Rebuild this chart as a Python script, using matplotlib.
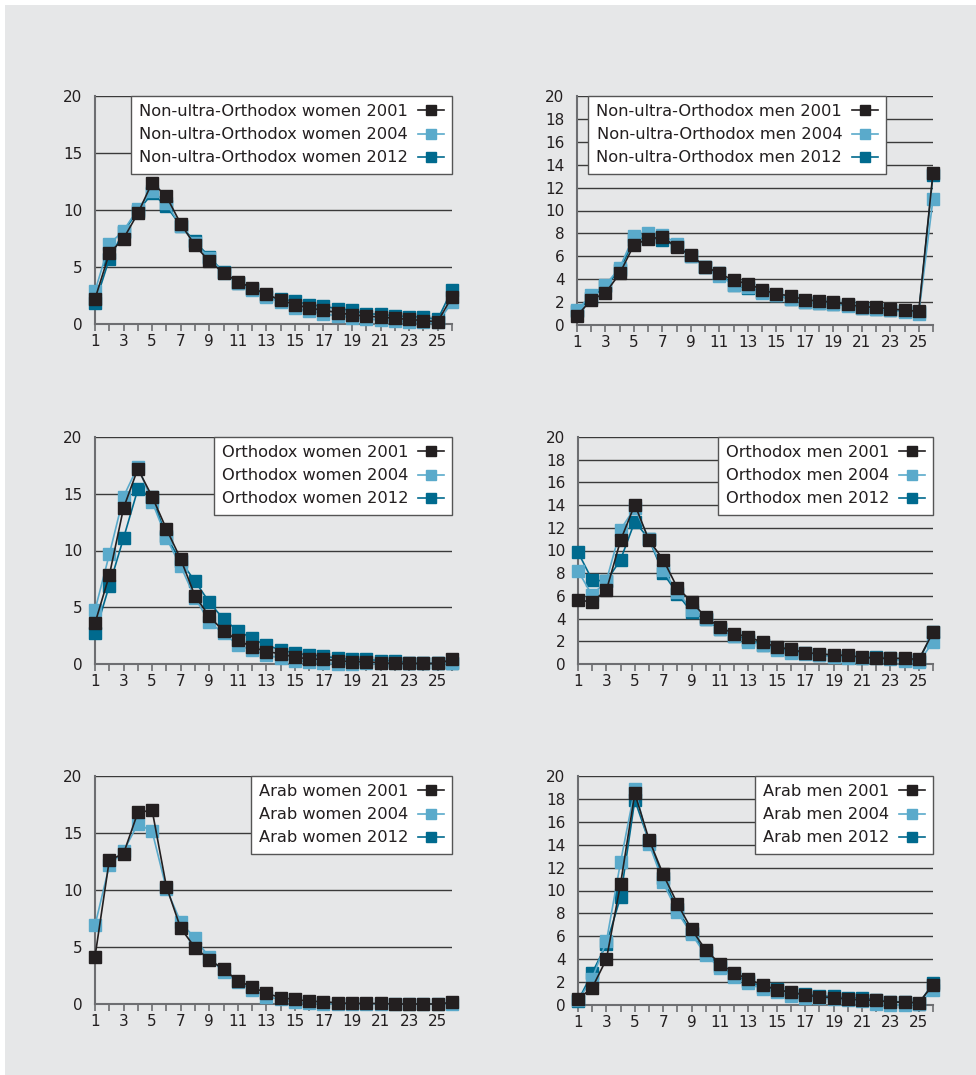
import matplotlib
matplotlib.use("Agg")
import matplotlib.pyplot as plt
from matplotlib.patches import Rectangle

plt.rcParams["font.family"] = ["DejaVu Sans"]

W, H = 976, 1075

x_pos = list(range(1, 27))

# Non-ultra-Orthodox women
nuo_women_2001 = [2.2, 6.2, 7.5, 9.7, 12.4, 11.2, 8.8, 6.9, 5.5, 4.5, 3.7, 3.2, 2.6, 2.1, 1.7, 1.4,
                  1.2, 1.0, 0.8, 0.7, 0.6, 0.5, 0.4, 0.3, 0.2, 2.4]
nuo_women_2004 = [2.9, 7.0, 8.2, 10.1, 11.7, 10.6, 8.6, 7.1, 5.8, 4.5, 3.6, 3.0, 2.4, 1.9, 1.4, 1.1,
                  0.9, 0.7, 0.55, 0.45, 0.35, 0.25, 0.2, 0.15, 0.15, 1.9]
nuo_women_2012 = [1.8, 5.7, 8.1, 9.9, 11.45, 10.35, 8.6, 7.25, 5.9, 4.55, 3.6, 3.1, 2.45, 2.2, 2.0, 1.7,
                  1.55, 1.35, 1.2, 0.9, 0.85, 0.7, 0.65, 0.6, 0.4, 3.0]

# Non-ultra-Orthodox men
nuo_men_2001 = [0.8, 2.2, 2.8, 4.5, 7.0, 7.5, 7.7, 6.8, 6.1, 5.1, 4.5, 3.9, 3.6, 3.1, 2.7, 2.55,
                2.2, 2.1, 2.0, 1.8, 1.6, 1.55, 1.4, 1.3, 1.2, 13.3]
nuo_men_2004 = [1.3, 2.6, 3.5, 5.0, 7.8, 8.0, 7.9, 7.1, 6.0, 5.1, 4.3, 3.5, 3.3, 2.8, 2.6, 2.3,
                2.0, 1.9, 1.8, 1.7, 1.5, 1.4, 1.3, 1.15, 1.0, 11.0]
nuo_men_2012 = [1.2, 2.4, 3.4, 4.8, 7.4, 7.7, 7.4, 6.9, 6.0, 5.1, 4.5, 3.5, 3.2, 2.9, 2.6, 2.25,
                2.0, 1.9, 1.85, 1.75, 1.5, 1.4, 1.3, 1.2, 1.1, 13.1]

# Orthodox women
orth_women_2001 = [3.6, 7.8, 13.75, 17.2, 14.75, 11.9, 9.25, 6.0, 4.2, 2.9, 2.1, 1.5, 1.1, 0.9, 0.6, 0.45,
                   0.4, 0.3, 0.2, 0.2, 0.1, 0.05, 0.05, 0.05, 0.05, 0.4]
orth_women_2004 = [4.75, 9.65, 14.75, 17.4, 14.3, 11.1, 8.6, 5.85, 3.7, 2.7, 1.7, 1.2, 0.8, 0.5, 0.3, 0.2,
                   0.1, 0.0, 0.0, 0.05, 0.05, 0.05, 0.05, 0.05, 0.05, 0.05]
orth_women_2012 = [2.7, 6.9, 11.1, 15.4, 14.7, 11.25, 9.05, 7.3, 5.45, 3.95, 2.95, 2.25, 1.65, 1.25, 0.95, 0.8,
                   0.7, 0.5, 0.4, 0.4, 0.3, 0.3, 0.1, 0.05, 0.05, 0.1]

# Orthodox men
orth_men_2001 = [5.6, 5.5, 6.5, 10.9, 14.05, 10.9, 9.2, 6.7, 5.5, 4.1, 3.25, 2.65, 2.4, 1.9, 1.5, 1.3,
                 1.0, 0.9, 0.8, 0.75, 0.6, 0.5, 0.5, 0.5, 0.4, 2.8]
orth_men_2004 = [8.2, 6.05, 7.35, 11.85, 13.75, 11.0, 8.3, 6.35, 4.8, 4.0, 3.1, 2.5, 1.95, 1.7, 1.25, 1.0,
                 0.85, 0.75, 0.65, 0.55, 0.5, 0.5, 0.4, 0.3, 0.15, 1.95]
orth_men_2012 = [9.85, 7.4, 7.3, 9.2, 12.55, 11.0, 8.0, 6.2, 4.55, 3.95, 3.05, 2.5, 2.15, 1.7, 1.4, 1.15,
                 0.95, 0.8, 0.7, 0.6, 0.55, 0.65, 0.5, 0.4, 0.3, 2.8]

# Arab women (no 2012 values)
arab_women_2001 = [4.15, 12.6, 13.2, 16.8, 17.0, 10.3, 6.65, 4.95, 3.9, 3.05, 2.05, 1.5, 0.95, 0.55, 0.4, 0.25,
                   0.2, 0.1, 0.05, 0.05, 0.05, 0.0, 0.0, 0.0, 0.0, 0.15]
arab_women_2004 = [6.9, 12.15, 13.4, 15.8, 15.15, 10.1, 7.2, 5.75, 4.1, 2.8, 1.95, 1.25, 0.65, 0.4, 0.15, 0.1,
                   0.0, 0.0, 0.0, 0.0, 0.0, 0.0, 0.0, 0.0, 0.0, 0.0]
arab_women_2012 = []

# Arab men
arab_men_2001 = [0.5, 1.5, 4.0, 10.6, 18.5, 14.45, 11.4, 8.85, 6.6, 4.8, 3.6, 2.8, 2.25, 1.75, 1.35, 1.1,
                 0.87, 0.7, 0.65, 0.5, 0.45, 0.4, 0.25, 0.25, 0.2, 1.75]
arab_men_2004 = [0.4, 2.3, 5.55, 12.5, 18.85, 14.1, 10.7, 8.1, 6.2, 4.35, 3.25, 2.45, 1.9, 1.4, 1.1, 0.75,
                 0.65, 0.6, 0.5, 0.45, 0.35, 0.1, 0.0, 0.0, 0.1, 1.3]
arab_men_2012 = [0.35, 2.8, 5.3, 9.45, 17.9, 14.3, 11.1, 8.35, 6.3, 4.6, 3.4, 2.55, 2.1, 1.55, 1.4, 1.05,
                 1.0, 0.8, 0.75, 0.6, 0.65, 0.45, 0.3, 0.25, 0.1, 1.9]

years = ["2001", "2004", "2012"]
colors = {"2001": "#231f20", "2004": "#5aaacb", "2012": "#006a8e"}
zorders = {"2001": 5, "2004": 4, "2012": 3}

panels = [
    ("Non-ultra-Orthodox women", [nuo_women_2001, nuo_women_2004, nuo_women_2012],
     (95, 96, 452, 324), range(0, 21, 5), 1.0),
    ("Non-ultra-Orthodox men", [nuo_men_2001, nuo_men_2004, nuo_men_2012],
     (577, 96, 933, 325), range(0, 21, 2), 0.868),
    ("Orthodox women", [orth_women_2001, orth_women_2004, orth_women_2012],
     (95, 437, 452, 664), range(0, 21, 5), 1.0),
    ("Orthodox men", [orth_men_2001, orth_men_2004, orth_men_2012],
     (578, 437, 933, 664), range(0, 21, 2), 1.0),
    ("Arab women", [arab_women_2001, arab_women_2004, arab_women_2012],
     (95, 776, 452, 1004), range(0, 21, 5), 1.0),
    ("Arab men", [arab_men_2001, arab_men_2004, arab_men_2012],
     (578, 776, 933, 1005), range(0, 21, 2), 1.0),
]

fig = plt.figure(figsize=(W / 100, H / 100), dpi=100, facecolor="white")
# grey panel behind everything, leaving a thin white strip top and left
fig.add_artist(Rectangle((5 / W, 0), 1 - 5 / W, 1 - 5 / H, transform=fig.transFigure,
                         facecolor="#e6e7e8", edgecolor="none", zorder=-10))

for group, series, (l, t, r, b), yticks, leg_x in panels:
    ax = fig.add_axes([l / W, 1 - b / H, (r - l) / W, (b - t) / H])
    ax.patch.set_visible(False)

    for year, vals in zip(years, series):
        ax.plot(x_pos[:len(vals)], vals, color=colors[year], lw=1.2, marker="s", ms=8,
                mec=colors[year], label=f"{group} {year}", zorder=zorders[year], clip_on=False)

    ax.set_xlim(1, 26)
    ax.set_ylim(0, 20)
    ax.set_yticks(list(yticks))
    for yv in yticks:
        if yv > 0:
            ax.axhline(yv, color="#3a3a3a", lw=1.0, zorder=1)
    ax.set_xticks(x_pos)
    ax.set_xticklabels([str(v) if v % 2 == 1 else "" for v in x_pos])

    for side in ["top", "right"]:
        ax.spines[side].set_visible(False)
    for side in ["left", "bottom"]:
        ax.spines[side].set_color("#6d6e71")
        ax.spines[side].set_linewidth(1.5)
    ax.tick_params(axis="y", length=0, pad=9, labelsize=11, labelcolor="#231f20")
    ax.tick_params(axis="x", length=5, width=1.2, color="#6d6e71", pad=2, labelsize=11,
                   labelcolor="#231f20", direction="out")

    leg = ax.legend(loc="upper right", bbox_to_anchor=(leg_x, 1.0), borderaxespad=0,
                    markerfirst=False, fontsize=11.7, frameon=True, fancybox=False,
                    framealpha=1, edgecolor="#555555", handlelength=1.6, handletextpad=0.6,
                    labelspacing=0.5, borderpad=0.5, markerscale=0.85)
    leg.get_frame().set_linewidth(1.0)
    leg.set_zorder(10)
    for txt in leg.get_texts():
        txt.set_color("#231f20")

fig.savefig("out.png", dpi=100, facecolor=fig.get_facecolor())
